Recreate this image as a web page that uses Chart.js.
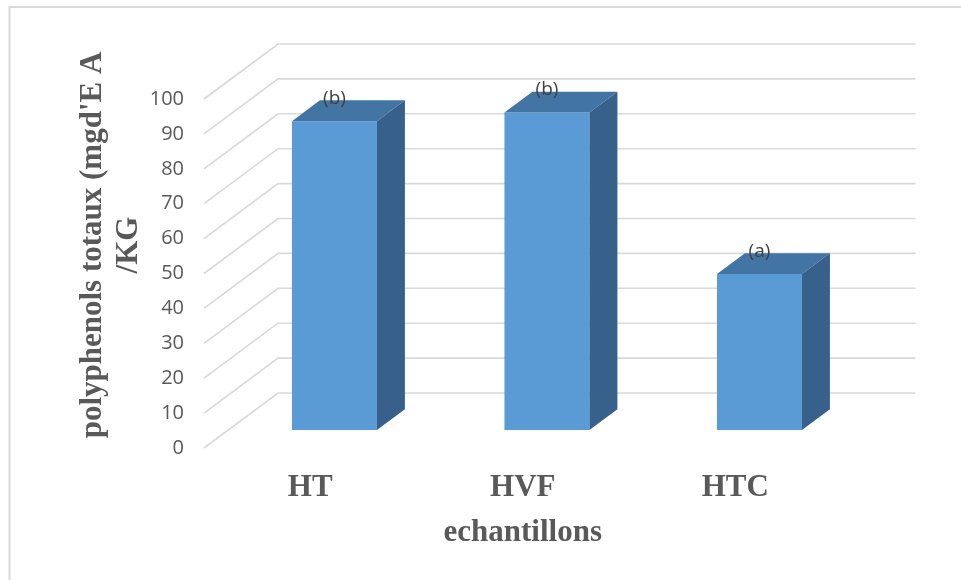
<!DOCTYPE html>
<html>
<head>
<meta charset="utf-8">
<title>polyphenols totaux</title>
<script src="https://cdn.jsdelivr.net/npm/chart.js@4/dist/chart.umd.min.js"></script>
<style>
  html, body { margin: 0; padding: 0; background: #ffffff; }
  #wrap { width: 961px; height: 580px; position: relative; }
</style>
</head>
<body>
<div id="wrap"><canvas id="chart" width="961" height="580"></canvas></div>
<script>
// ---- data ----
const categories = ['HT', 'HVF', 'HTC'];
const values = [88.5, 91, 44.7];
const groupLetters = ['(b)', '(b)', '(a)'];
const yTicks = [0, 10, 20, 30, 40, 50, 60, 70, 80, 90, 100];
const yTitleLines = ["polyphenols totaux (mgd'E A", '/KG'];
const xTitle = 'echantillons';

// ---- 3D look ----
const DEPTH_X = 74, DEPTH_Y = -55;       // full floor depth (oblique projection)
const BAR_FRONT = 0.327, BAR_BACK = 0.705; // where the columns sit inside that depth
const GRID_COLOR = '#d9d9d9';
const FACE_COLOR = '#5b9bd5';
const TOP_COLOR = '#4275a4';
const SIDE_COLOR = '#37618a';
const TEXT_GRAY = '#595959';

const depthPlugin = {
  id: 'depth3d',
  beforeDraw(chart) {
    const ctx = chart.ctx;
    ctx.save();
    ctx.fillStyle = '#ffffff';
    ctx.fillRect(0, 0, chart.width, chart.height);
    ctx.strokeStyle = GRID_COLOR;
    ctx.lineWidth = 2;
    ctx.strokeRect(9.5, 7, chart.width + 50, chart.height + 50);
    ctx.restore();
  },
  beforeDatasetsDraw(chart) {
    const ctx = chart.ctx;
    const area = chart.chartArea;
    const y = chart.scales.y;
    // side wall diagonals + back wall lines
    ctx.save();
    ctx.strokeStyle = GRID_COLOR;
    ctx.lineWidth = 1.6;
    yTicks.forEach(v => {
      const py = y.getPixelForValue(v);
      ctx.beginPath();
      ctx.moveTo(area.left, py);
      ctx.lineTo(area.left + DEPTH_X, py + DEPTH_Y);
      ctx.lineTo(area.right + DEPTH_X, py + DEPTH_Y);
      ctx.stroke();
    });
    ctx.restore();
    // columns are drawn on a plane set back into the depth
    ctx.save();
    ctx.translate(BAR_FRONT * DEPTH_X, BAR_FRONT * DEPTH_Y);
  },
  afterDatasetsDraw(chart) {
    const ctx = chart.ctx;
    const ddx = (BAR_BACK - BAR_FRONT) * DEPTH_X;
    const ddy = (BAR_BACK - BAR_FRONT) * DEPTH_Y;
    const meta = chart.getDatasetMeta(0);
    meta.data.forEach((bar, i) => {
      const p = bar.getProps(['x', 'y', 'base', 'width'], true);
      const l = p.x - p.width / 2, r = p.x + p.width / 2;
      const top = p.y, bottom = p.base;
      // top face
      ctx.fillStyle = TOP_COLOR;
      ctx.beginPath();
      ctx.moveTo(l, top);
      ctx.lineTo(r, top);
      ctx.lineTo(r + ddx, top + ddy);
      ctx.lineTo(l + ddx, top + ddy);
      ctx.closePath();
      ctx.fill();
      // right side face
      ctx.fillStyle = SIDE_COLOR;
      ctx.beginPath();
      ctx.moveTo(r, top);
      ctx.lineTo(r, bottom);
      ctx.lineTo(r + ddx, bottom + ddy);
      ctx.lineTo(r + ddx, top + ddy);
      ctx.closePath();
      ctx.fill();
      // significance letter
      ctx.fillStyle = '#404040';
      ctx.font = '19px "Open Sans"';
      ctx.textAlign = 'center';
      ctx.textBaseline = 'middle';
      ctx.fillText(groupLetters[i], p.x, top + ddy - 2);
    });
    ctx.restore();
  },
  afterDraw(chart) {
    const ctx = chart.ctx;
    const area = chart.chartArea;
    ctx.save();
    ctx.fillStyle = TEXT_GRAY;
    ctx.font = 'bold 31px "Liberation Serif"';
    ctx.textAlign = 'center';
    ctx.textBaseline = 'alphabetic';
    // x axis title
    ctx.fillText(xTitle, (area.left + area.right) / 2, 541);
    // y axis title (rotated, two lines)
    ctx.translate(101, 245);
    ctx.rotate(-Math.PI / 2);
    ctx.fillText(yTitleLines[0], 0, 0);
    ctx.fillText(yTitleLines[1], 0, 36);
    ctx.restore();
  }
};

new Chart(document.getElementById('chart'), {
  type: 'bar',
  data: {
    labels: categories,
    datasets: [{
      data: values,
      backgroundColor: FACE_COLOR,
      borderWidth: 0,
      barPercentage: 0.4,
      categoryPercentage: 1,
      clip: false
    }]
  },
  options: {
    responsive: false,
    animation: false,
    events: [],
    layout: { padding: { top: 99, right: 119.5, bottom: 0, left: 0 } },
    plugins: { legend: { display: false }, tooltip: { enabled: false } },
    scales: {
      x: {
        type: 'category',
        offset: true,
        grid: { display: false },
        border: { display: false },
        ticks: {
          color: TEXT_GRAY,
          padding: 13,
          maxRotation: 0,
          font: { family: 'Liberation Serif', size: 31, weight: 'bold' }
        },
        afterFit(s) { s.height = 132; }
      },
      y: {
        min: 0,
        max: 100,
        grid: { display: false },
        border: { display: false },
        ticks: {
          color: TEXT_GRAY,
          padding: 12,
          font: { family: 'Open Sans', size: 20 }
        },
        afterBuildTicks(s) { s.ticks = yTicks.map(v => ({ value: v })); },
        afterFit(s) { s.width = 204; }
      }
    }
  },
  plugins: [depthPlugin]
});
</script>
</body>
</html>
